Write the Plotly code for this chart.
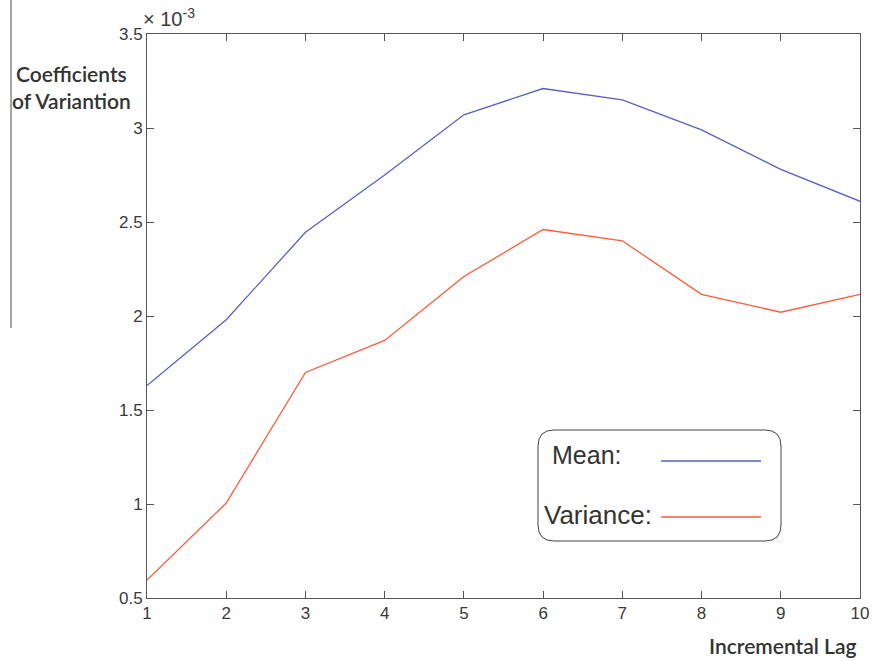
import plotly.graph_objects as go

lags = [1, 2, 3, 4, 5, 6, 7, 8, 9, 10]
mean_cv = [1.63, 1.98, 2.445, 2.75, 3.07, 3.21, 3.15, 2.99, 2.78, 2.61]
variance_cv = [0.595, 1.005, 1.70, 1.87, 2.21, 2.46, 2.40, 2.115, 2.02, 2.115]
y_ticks = [0.5, 1, 1.5, 2, 2.5, 3, 3.5]
y_tick_labels = ["0.5", "1", "1.5", "2", "2.5", "3", "3.5"]

blue = "#5a5fc2"
red = "#ff5a3a"

fig = go.Figure()
fig.add_trace(go.Scatter(x=lags, y=mean_cv, mode="lines", name="Mean:",
                         line=dict(color=blue, width=1.3)))
fig.add_trace(go.Scatter(x=lags, y=variance_cv, mode="lines", name="Variance:",
                         line=dict(color=red, width=1.3)))

tick_font = dict(family="Liberation Sans, Arial", size=17, color="#3a3a3a")
axis_common = dict(showline=True, linecolor="#555555", linewidth=1, mirror="ticks",
                   ticks="inside", ticklen=7, tickcolor="#555555", showgrid=False,
                   zeroline=False, tickfont=tick_font, automargin=False)

fig.update_xaxes(range=[1, 10], tickvals=lags, ticklabelstandoff=0, **axis_common)
fig.update_yaxes(range=[0.5, 3.5], tickvals=y_ticks, ticktext=y_tick_labels,
                 ticklabelstandoff=0, **axis_common)

def px(x):
    return (x - 147) / 713

def py(y):
    return (598 - y) / 564

shapes = []
shapes.append(dict(type="line", xref="paper", yref="paper", x0=px(11), x1=px(11),
                   y0=py(0), y1=py(328), line=dict(color="#777777", width=1.3)))
x0, x1, y0, y1 = px(538), px(781), py(541), py(430)
rx, ry = 16 / 713, 16 / 564
path = (f"M {x0+rx},{y0} L {x1-rx},{y0} Q {x1},{y0} {x1},{y0+ry} "
        f"L {x1},{y1-ry} Q {x1},{y1} {x1-rx},{y1} L {x0+rx},{y1} "
        f"Q {x0},{y1} {x0},{y1-ry} L {x0},{y0+ry} Q {x0},{y0} {x0+rx},{y0} Z")
shapes.append(dict(type="path", xref="paper", yref="paper", path=path,
                   line=dict(color="#444444", width=1), fillcolor="white", layer="above"))
shapes.append(dict(type="line", xref="paper", yref="paper", x0=px(661), x1=px(761),
                   y0=py(461), y1=py(461), line=dict(color=blue, width=1.3), layer="above"))
shapes.append(dict(type="line", xref="paper", yref="paper", x0=px(661), x1=px(761),
                   y0=py(517), y1=py(517), line=dict(color=red, width=1.3), layer="above"))

label_font = dict(family="Lato, Open Sans, sans-serif", size=21, color="#333333", weight=600)
legend_font = dict(family="Liberation Sans, Arial", size=25, color="#333333")
annotations = [
    dict(text="× 10<sup>-3</sup>", xref="paper", yref="paper", x=px(141), y=py(18),
         xanchor="left", yanchor="middle", showarrow=False,
         font=dict(family="Liberation Sans, Arial", size=20, color="#3a3a3a")),
    dict(text="Coefficients<br>of Variantion", xref="paper", yref="paper",
         x=px(71), y=py(87), xanchor="center", yanchor="middle", showarrow=False,
         font=label_font, align="center"),
    dict(text="Incremental Lag", xref="paper", yref="paper", x=px(858), y=py(645),
         xanchor="right", yanchor="middle", showarrow=False, font=label_font),
    dict(text="Mean:", xref="paper", yref="paper", x=px(550), y=py(455),
         xanchor="left", yanchor="middle", showarrow=False, font=legend_font),
    dict(text="Variance:", xref="paper", yref="paper", x=px(542), y=py(515),
         xanchor="left", yanchor="middle", showarrow=False,
         font=dict(family="Liberation Sans, Arial", size=26, color="#333333")),
]

fig.update_layout(
    width=873, height=661,
    margin=dict(l=147, r=13, t=34, b=63, autoexpand=False),
    plot_bgcolor="white", paper_bgcolor="white",
    showlegend=False,
    shapes=shapes, annotations=annotations,
)

fig.write_html("out.html", config={"displayModeBar": False},
               post_script="document.body.style.margin='0';document.body.style.overflow='hidden';")
